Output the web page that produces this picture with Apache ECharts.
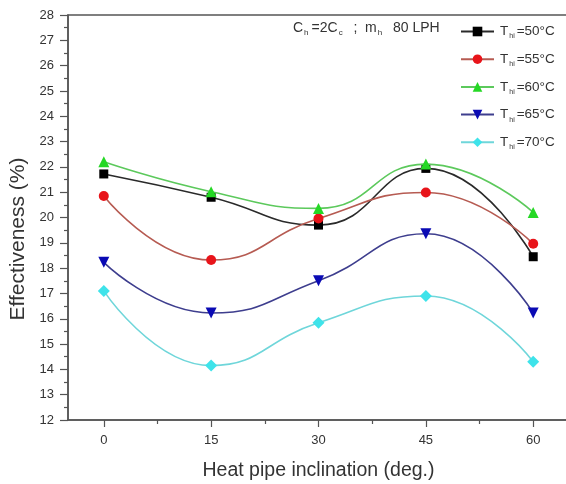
<!DOCTYPE html>
<html>
<head>
<meta charset="utf-8">
<script src="https://cdn.jsdelivr.net/npm/echarts@6/dist/echarts.min.js"></script>
<style>
  html, body { margin: 0; padding: 0; background: #fff; }
  #chart { width: 566px; height: 484px; }
</style>
</head>
<body>
<div id="chart"></div>
<script>
// Heat pipe inclination angles (deg.)
const inclinations = [0, 15, 30, 45, 60];
const minorInclinations = [7.5, 22.5, 37.5, 52.5];

// Effectiveness (%) for each hot-water inlet temperature
const t50 = [21.72, 20.80, 19.70, 21.94, 18.45];
const t55 = [20.85, 18.32, 19.96, 20.99, 18.96];
const t60 = [22.20, 21.02, 20.36, 22.11, 20.20];
const t65 = [18.23, 16.23, 17.50, 19.36, 16.23];
const t70 = [17.10, 14.15, 15.84, 16.90, 14.30];

const seriesNames = ['50', '55', '60', '65', '70'];
const yTicks = { min: 12, max: 28, step: 1 };

const FONT = '"Liberation Sans", Arial, sans-serif';

const styles = [
  { data: t50, symbol: 'rect',     size: 9,  rotate: 0,   mark: '#000000', line: '#2a2a2a' },
  { data: t55, symbol: 'circle',   size: 10, rotate: 0,   mark: '#e8141a', line: '#b65b52' },
  { data: t60, symbol: 'triangle', size: 11, rotate: 0,   mark: '#25d825', line: '#5cc95c' },
  { data: t65, symbol: 'triangle', size: 11, rotate: 180, mark: '#0a0ab4', line: '#3e3e8e' },
  { data: t70, symbol: 'diamond',  size: 12, rotate: 0,   mark: '#3ee3ea', line: '#6fd6da' }
];

const series = styles.map((s, i) => ({
  name: 'T' + seriesNames[i],
  type: 'line',
  xAxisIndex: 0,
  yAxisIndex: 0,
  smooth: 0.5,
  data: inclinations.map((x, j) => [x, s.data[j]]),
  symbol: s.symbol,
  symbolSize: s.size,
  symbolRotate: s.rotate,
  showAllSymbol: true,
  lineStyle: { color: s.line, width: 1.6 },
  itemStyle: { color: s.mark, borderWidth: 0 },
  z: 3 + i
}));

const subRich = {
  s: { fontSize: 7, fontFamily: FONT, color: '#333', padding: [10, 2, 0, 1] }
};

const chart = echarts.init(document.getElementById('chart'), null, { renderer: 'canvas' });
chart.setOption({
  animation: false,
  backgroundColor: '#ffffff',
  grid: {
    left: 68, right: -3, top: 15, bottom: 64,
    outerBoundsMode: 'none',
    containLabel: false,
    show: true, borderColor: '#555', borderWidth: 1.5, backgroundColor: 'transparent'
  },
  xAxis: [
    {
      type: 'value', min: -5, max: 65,
      name: 'Heat pipe inclination (deg.)',
      nameLocation: 'middle', nameGap: 41,
      nameTextStyle: { fontFamily: FONT, fontSize: 19.5, color: '#333' },
      axisLine: { show: true, onZero: false, lineStyle: { color: '#555', width: 1.5 } },
      axisTick: { show: true, inside: false, length: 7, customValues: inclinations, lineStyle: { color: '#555', width: 1.2 } },
      axisLabel: { customValues: inclinations, margin: 14, fontFamily: FONT, fontSize: 13, color: '#333' },
      splitLine: { show: false }
    },
    {
      type: 'value', min: -5, max: 65, position: 'bottom',
      axisLine: { show: false, onZero: false },
      axisTick: { show: true, inside: false, length: 4, customValues: minorInclinations, lineStyle: { color: '#555', width: 1.2 } },
      axisLabel: { show: false },
      splitLine: { show: false }
    }
  ],
  yAxis: {
    type: 'value', min: yTicks.min, max: yTicks.max, interval: yTicks.step,
    axisLine: { show: true, onZero: false, lineStyle: { color: '#555', width: 1.5 } },
    axisTick: { show: true, inside: false, length: 8, lineStyle: { color: '#555', width: 1.2 } },
    minorTick: { show: true, splitNumber: 2, length: 4, lineStyle: { color: '#555', width: 1.2 } },
    axisLabel: { margin: 14, fontFamily: FONT, fontSize: 13, color: '#333' },
    splitLine: { show: false },
    minorSplitLine: { show: false }
  },
  legend: {
    orient: 'vertical',
    left: 460, top: 24.5,
    itemWidth: 33, itemHeight: 12, itemGap: 12.2,
    padding: 0,
    data: series.map(s => s.name),
    formatter: name => 'T{s|hi}=' + name.slice(1) + '°C',
    textStyle: { fontFamily: FONT, fontSize: 13.5, color: '#333', padding: [0, 0, 0, 1], rich: subRich }
  },
  graphic: [
    {
      // y-axis title, rotated
      type: 'text', x: 18.5, y: 239, rotation: Math.PI / 2,
      style: {
        text: 'Effectiveness (%)',
        fontFamily: FONT, fontSize: 21, fill: '#333',
        align: 'center', verticalAlign: 'middle'
      }
    },
    {
      type: 'text', left: 293, top: 21,
      style: {
        text: 'C{s|h}=2C{s|c}  ;  m{s|h}  80 LPH',
        fontFamily: FONT, fontSize: 14, fill: '#333',
        rich: { s: { fontSize: 8, fontFamily: FONT, color: '#333', padding: [10, 3, 0, 1] } }
      }
    }
  ],
  series: series
});
</script>
</body>
</html>
